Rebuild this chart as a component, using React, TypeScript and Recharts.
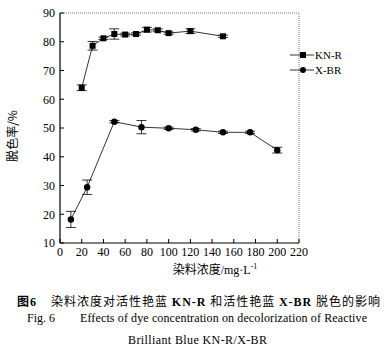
import React from 'react';
import {
  LineChart, Line, XAxis, YAxis, ErrorBar, ReferenceLine, Legend
} from 'recharts';

const KNR_X = [20, 30, 40, 50, 60, 70, 80, 90, 100, 120, 150];
const KNR_Y = [64, 78.6, 81.2, 82.7, 82.5, 82.7, 84.2, 84, 83, 83.7, 81.9];
const KNR_ERR = [1, 1.5, 0.4, 1.8, 0.5, 0.4, 0.8, 0.5, 0.4, 0.8, 0.4];

const XBR_X = [10, 25, 50, 75, 100, 125, 150, 175, 200];
const XBR_Y = [18.2, 29.4, 52.2, 50.3, 49.9, 49.4, 48.5, 48.5, 42.3];
const XBR_ERR = [2.8, 2.5, 0.4, 2.3, 0.4, 0.4, 0.4, 0.4, 1];

const X_TICKS = [0, 20, 40, 60, 80, 100, 120, 140, 160, 180, 200, 220];
const Y_TICKS = [10, 20, 30, 40, 50, 60, 70, 80, 90];

const knrData = KNR_X.map((x, i) => ({ x, y: KNR_Y[i], err: KNR_ERR[i] }));
const xbrData = XBR_X.map((x, i) => ({ x, y: XBR_Y[i], err: XBR_ERR[i] }));

const SERIF = '"Liberation Serif", "Times New Roman", serif';
const CJK = '"Noto Sans CJK SC", "Liberation Serif", serif';

const SquareDot = (props: any) => {
  const { cx, cy } = props;
  if (cx == null || cy == null) return null;
  return <rect x={cx - 3} y={cy - 3} width={6} height={6} fill="#000" />;
};

const CircleDot = (props: any) => {
  const { cx, cy } = props;
  if (cx == null || cy == null) return null;
  return <circle cx={cx} cy={cy} r={3.2} fill="#000" />;
};

const LegendBox = () => (
  <svg width={70} height={30}>
    <line x1={0} y1={8} x2={24} y2={8} stroke="#000" strokeWidth={0.8} />
    <rect x={10} y={5} width={6} height={6} fill="#000" />
    <text x={25} y={12} fontSize={11} fontFamily={SERIF}>KN-R</text>
    <line x1={0} y1={23} x2={24} y2={23} stroke="#000" strokeWidth={0.8} />
    <circle cx={13} cy={23} r={3} fill="#000" />
    <text x={25} y={27} fontSize={11} fontFamily={SERIF}>X-BR</text>
  </svg>
);

const XLabel = () => (
  <text x={215} y={274} textAnchor="middle" fontSize={12} fill="#000">
    <tspan fontFamily={CJK}>染料浓度</tspan>
    <tspan fontFamily={SERIF}>/mg·L</tspan>
    <tspan fontFamily={SERIF} fontSize={8} dy={-5}>-1</tspan>
  </text>
);

export default function App() {
  return (
    <div style={{ position: 'absolute', left: 0, top: 0, width: 391, height: 361, background: '#fff' }}>
      <LineChart width={391} height={280} margin={{ top: 13, right: 22, bottom: 7, left: 20 }}>
        <XAxis
          type="number"
          dataKey="x"
          domain={[0, 220]}
          ticks={X_TICKS}
          interval={0}
          height={30}
          tickSize={-4}
          tickMargin={8}
          axisLine={{ stroke: '#000', strokeWidth: 1.2 }}
          tickLine={{ stroke: '#000' }}
          tick={{ fontSize: 12, fontFamily: SERIF, fill: '#000' }}
          label={<XLabel />}
        />
        <YAxis
          type="number"
          domain={[10, 90]}
          ticks={Y_TICKS}
          interval={0}
          width={40}
          tickSize={-4}
          tickMargin={9}
          axisLine={{ stroke: '#000', strokeWidth: 1.2 }}
          tickLine={{ stroke: '#000' }}
          tick={{ fontSize: 12, fontFamily: SERIF, fill: '#000' }}
          label={{
            value: '脱色率/%', angle: -90, position: 'insideLeft', dx: -12, dy: 8,
            style: { fontSize: 12, fontFamily: CJK, fill: '#000', textAnchor: 'middle' }
          }}
        />
        <ReferenceLine y={90} stroke="#777" strokeDasharray="1 1" />
        <ReferenceLine x={220} stroke="#777" strokeDasharray="1 1" />
        <Legend
          layout="vertical"
          verticalAlign="top"
          align="right"
          content={<LegendBox />}
          wrapperStyle={{ left: 290, top: 47, width: 70 }}
        />
        <Line
          data={knrData}
          dataKey="y"
          name="KN-R"
          stroke="#000"
          strokeWidth={0.8}
          dot={<SquareDot />}
          activeDot={false}
          isAnimationActive={false}
        >
          <ErrorBar dataKey="err" width={5} stroke="#000" strokeWidth={0.8} direction="y" />
        </Line>
        <Line
          data={xbrData}
          dataKey="y"
          name="X-BR"
          stroke="#000"
          strokeWidth={0.8}
          dot={<CircleDot />}
          activeDot={false}
          isAnimationActive={false}
        >
          <ErrorBar dataKey="err" width={5} stroke="#000" strokeWidth={0.8} direction="y" />
        </Line>
      </LineChart>
      <svg width={391} height={81} style={{ position: 'absolute', left: 0, top: 280 }}>
        <text x={17} y={26} fontSize={12} fill="#000" textLength={363} lengthAdjust="spacing">
          <tspan fontFamily={CJK} fontWeight="bold">图</tspan>
          <tspan fontFamily={SERIF} fontWeight="bold">6</tspan>
          <tspan dx={14} fontFamily={CJK}>染料浓度对活性艳蓝 </tspan>
          <tspan fontFamily={SERIF} fontWeight="bold">KN-R</tspan>
          <tspan fontFamily={CJK}> 和活性艳蓝 </tspan>
          <tspan fontFamily={SERIF} fontWeight="bold">X-BR</tspan>
          <tspan fontFamily={CJK}> 脱色的影响</tspan>
        </text>
        <text x={27} y={42} fontSize={12} fontFamily={SERIF} fill="#000">Fig. 6</text>
        <text x={80} y={42} fontSize={12} fontFamily={SERIF} fill="#000" textLength={287} lengthAdjust="spacing">
          Effects of dye concentration on decolorization of Reactive
        </text>
        <text x={128} y={64} fontSize={12} fontFamily={SERIF} fill="#000" textLength={139} lengthAdjust="spacing">
          Brilliant Blue KN-R/X-BR
        </text>
      </svg>
    </div>
  );
}
